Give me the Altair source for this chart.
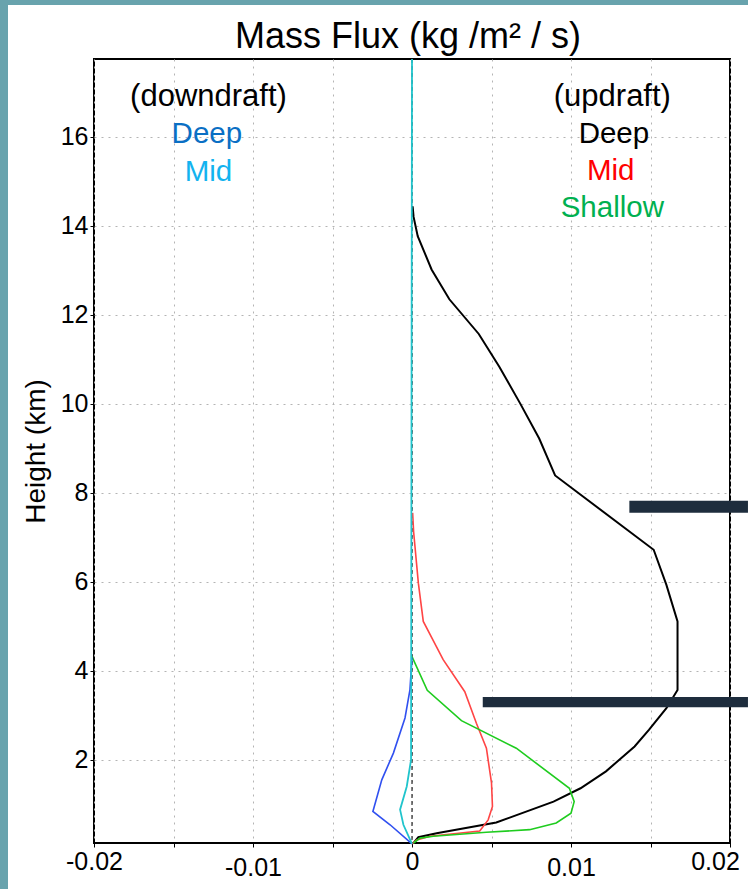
import altair as alt
import pandas as pd

TITLE = "Mass Flux (kg /m² / s)"
Y_TITLE = "Height (km)"

# axis ticks
x_ticks = [-0.02, -0.015, -0.01, -0.005, 0.0, 0.005, 0.01, 0.015, 0.02]
y_ticks = [2, 4, 6, 8, 10, 12, 14, 16]

# updraft, deep convection: height (km) / mass flux (kg m-2 s-1)
up_deep_height = [0.13, 0.26, 0.35, 0.59, 1.06, 1.36, 1.74, 2.30, 2.67, 3.16, 3.57,
                  5.11, 5.93, 6.72, 8.39, 9.22, 10.01, 10.83, 11.57, 12.35, 13.02,
                  13.77, 14.2, 14.44]
up_deep_flux = [0.0001, 0.0004, 0.00155, 0.0053, 0.0089, 0.0106, 0.0122, 0.0140, 0.0149,
                0.0160, 0.0167, 0.0167, 0.0160, 0.0152, 0.0090, 0.0080, 0.0068, 0.0055,
                0.0042, 0.00235, 0.00123, 0.00036, 0.0001, 0.00004]

# updraft, mid-level convection
up_mid_height = [0.11, 0.20, 0.28, 0.40, 0.65, 0.95, 1.48, 2.26, 2.82, 3.53, 4.25,
                 5.11, 5.97, 7.13, 7.55]
up_mid_flux = [0.0, 0.0003, 0.00113, 0.00426, 0.00479, 0.00506, 0.0050, 0.00468,
               0.00405, 0.00332, 0.00196, 0.00071, 0.0004, 0.0001, 0.00004]

# updraft, shallow convection
up_shallow_height = [0.13, 0.24, 0.28, 0.37, 0.43, 0.58, 0.80, 1.06, 1.36, 2.26,
                     2.88, 3.56, 4.32]
up_shallow_flux = [0.0001, 0.0005, 0.00134, 0.00468, 0.0074, 0.00907, 0.0100, 0.0102,
                   0.0099, 0.00656, 0.00311, 0.00096, 0.0]

# downdraft, deep convection
down_deep_height = [0.11, 0.54, 0.84, 1.55, 2.15, 2.94, 3.57, 4.3]
down_deep_flux = [0.0, -0.00138, -0.00246, -0.0019, -0.00117, -0.00044, -0.00013, 0.0]

# downdraft, mid-level convection
down_mid_height = [0.11, 0.54, 0.88, 1.40, 2.0, 17.75]
down_mid_flux = [0.0, -0.00054, -0.00075, -0.00033, -0.00006, 0.0]

# overlay bars: flux extent and height extent
bar_flux_start = [0.01367, 0.00445]
bar_flux_end = [0.02113, 0.02113]
bar_height_low = [7.55, 3.18]
bar_height_high = [7.82, 3.41]

# in-plot key
header_text = ["(downdraft)", "(updraft)"]
key_text = ["Deep", "Mid", "Deep", "Mid", "Shallow"]
key_color = ["#0a6fc4", "#13b3ef", "#000000", "#ff0000", "#00b050"]

FONT = "Liberation Sans"
TEAL = "#68a3ad"

x_scale = alt.Scale(domain=[-0.02, 0.02], nice=False, zero=False)
y_scale = alt.Scale(domain=[0.13, 17.75], nice=False, zero=False)

x_axis = alt.Axis(
    values=x_ticks,
    title="",
    labelExpr="abs(datum.value * 100 - round(datum.value * 100)) < 1e-6 ? "
              "(datum.value == 0 ? '0' : (datum.value < 0 ? '-' : '') + "
              "format(abs(datum.value), '.2f')) : ''",
    labelPadding={"condition": {"test": "abs(abs(datum.value) - 0.01) < 1e-6", "value": 8},
                  "value": 2},
    labelOffset={"condition": {"test": "datum.value > 0.019", "value": -15}, "value": 0},
)
y_axis = alt.Axis(values=y_ticks, title=Y_TITLE, titlePadding=10)


def xq(field):
    return alt.X(field, scale=x_scale, axis=x_axis)


def yq(field):
    return alt.Y(field, scale=y_scale, axis=y_axis)


def profile(h, f):
    return pd.DataFrame({"height": h, "flux": f, "seq": list(range(len(h)))})


def line_layer(h, f, color, width):
    return alt.Chart(profile(h, f)).mark_line(color=color, strokeWidth=width).encode(
        x=xq("flux:Q"), y=yq("height:Q"), order="seq:Q",
    )


one = pd.DataFrame({"k": [0]})

# slide frame strips along the left and top edges
left_strip = alt.Chart(one).mark_rect(color=TEAL).encode(
    x=alt.value(-94), x2=alt.value(-86), y=alt.value(-59), y2=alt.value(830)
)
top_strip = alt.Chart(one).mark_rect(color=TEAL).encode(
    x=alt.value(-94), x2=alt.value(654), y=alt.value(-59), y2=alt.value(-54)
)

# chart heading above the plot frame
heading = alt.Chart(one).mark_text(
    text=TITLE, font=FONT, fontSize=36, align="center", baseline="middle", color="black"
).encode(x=alt.value(314), y=alt.value(-22))

zero_line = alt.Chart(one).mark_rule(color="black", strokeDash=[4, 3], strokeWidth=1).encode(
    x=alt.XDatum(0, scale=x_scale, axis=x_axis)
)

lines = [
    line_layer(up_deep_height, up_deep_flux, "black", 2),
    line_layer(up_mid_height, up_mid_flux, "#ff4545", 1.6),
    line_layer(up_shallow_height, up_shallow_flux, "#1fcc1f", 1.6),
    line_layer(down_deep_height, down_deep_flux, "#3050f0", 1.6),
    line_layer(down_mid_height, down_mid_flux, "#20c4cc", 1.8),
]

bars_df = pd.DataFrame({"x0": bar_flux_start, "x1": bar_flux_end,
                        "y0": bar_height_low, "y1": bar_height_high})
bars = alt.Chart(bars_df).mark_rect(color="#1e2d3d").encode(
    x=xq("x0:Q"), x2="x1:Q", y=yq("y0:Q"), y2="y1:Q",
)

headers = alt.Chart(pd.DataFrame({
    "text": header_text, "x": [-0.0128, 0.0126], "y": [16.9, 16.9],
})).mark_text(font=FONT, fontSize=31, align="center", baseline="middle", color="black").encode(
    x=xq("x:Q"), y=yq("y:Q"), text="text:N",
)

keys = alt.Chart(pd.DataFrame({
    "text": key_text, "color": key_color,
    "x": [-0.0129, -0.0128, 0.0127, 0.0125, 0.0126],
    "y": [16.07, 15.2, 16.07, 15.23, 14.4],
})).mark_text(font=FONT, fontSize=29.5, align="center", baseline="middle").encode(
    x=xq("x:Q"), y=yq("y:Q"), text="text:N",
    color=alt.Color("color:N", scale=None),
)

chart = alt.layer(
    left_strip, top_strip, heading, zero_line, *lines, bars, headers, keys
).properties(
    width=636,
    height=784,
    padding={"left": 94, "top": 59, "right": 18, "bottom": 46},
    autosize=alt.AutoSizeParams(type="none"),
    background="white",
).configure_view(
    stroke="black", strokeWidth=2, fill="white"
).configure_axis(
    grid=True, gridColor="#b4b4b4", gridDash=[2, 5], gridWidth=1,
    domain=False, tickColor="black", tickSize=4, tickWidth=1,
    labelFont=FONT, labelFontSize=25, labelColor="black",
    labelFlush=False, labelOverlap=False,
    titleFont=FONT, titleFontSize=28, titleFontWeight="normal", titleColor="black",
)

chart.save("out.html", embed_options={"renderer": "svg", "actions": False})
